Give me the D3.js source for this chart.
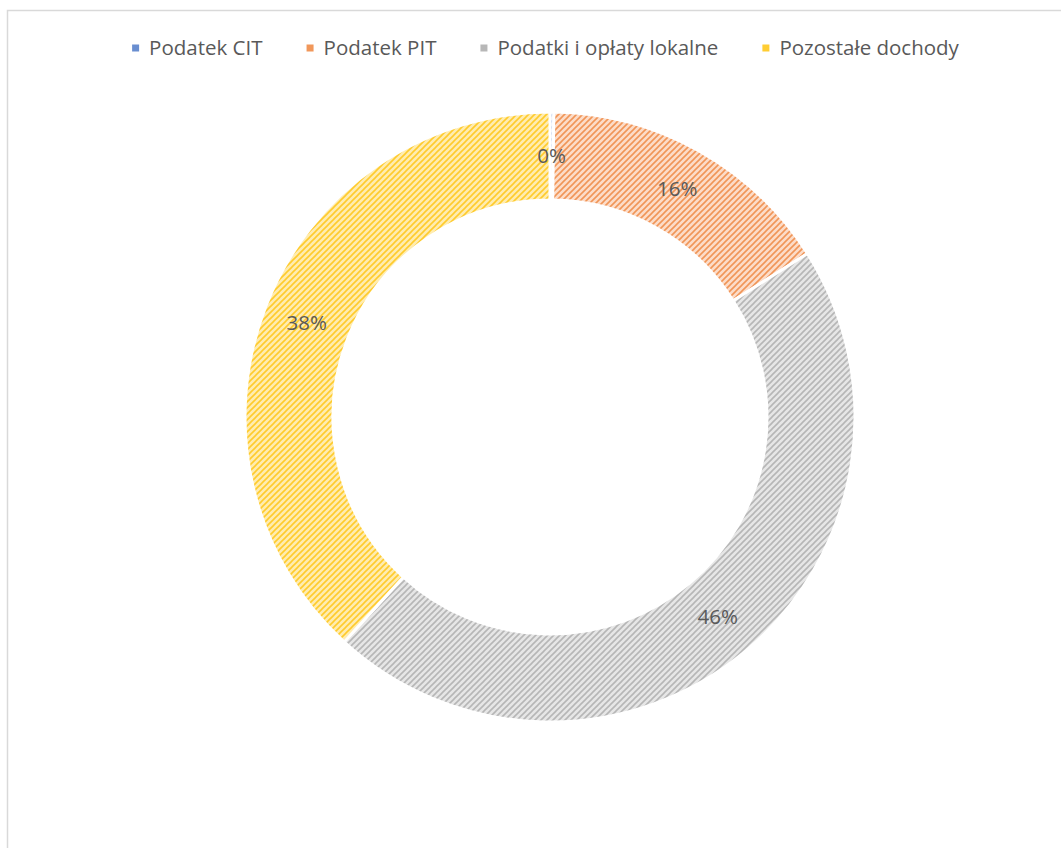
<!DOCTYPE html>
<html>
<head>
<meta charset="utf-8">
<script src="https://cdn.jsdelivr.net/npm/d3@7"></script>
<style>
  body { margin: 0; background: #fff; }
  svg { display: block; }
  text { font-family: "Open Sans", "Noto Sans", sans-serif; fill: #595959; }
</style>
</head>
<body>
<svg id="chart" width="1061" height="848"></svg>
<script>
// Data
const categories = ['Podatek CIT', 'Podatek PIT', 'Podatki i opłaty lokalne', 'Pozostałe dochody'],
    shares = [0.2, 15.8, 45.8, 38.2],
    labels = ['0%', '16%', '46%', '38%'],
    colors = ['#4472C4', '#ED7D31', '#A5A5A5', '#FFC000'],
    tints = ['#cdd9f0', '#fcdcc8', '#e6e6e6', '#ffecb0'];

const width = 1061, height = 848,
    cx = 550, cy = 417,
    outerR = 305, innerR = 217;

const svg = d3.select('#chart');

// chart area border (right/bottom edges run off the page)
svg.append('rect')
    .attr('x', 7.5).attr('y', 10.5)
    .attr('width', width + 20).attr('height', height + 20)
    .attr('fill', 'none')
    .attr('stroke', '#d9d9d9')
    .attr('stroke-width', 1.5);

// striped fills, like Excel's wide upward diagonal pattern
const defs = svg.append('defs');
colors.forEach((c, i) => {
    const p = defs.append('pattern')
        .attr('id', 'hatch' + i)
        .attr('patternUnits', 'userSpaceOnUse')
        .attr('width', 6).attr('height', 6);
    p.append('rect').attr('width', 6).attr('height', 6).attr('fill', tints[i]);
    p.append('path')
        .attr('d', 'M-1,1 L1,-1 M0,6 L6,0 M5,7 L7,5')
        .attr('stroke', c)
        .attr('stroke-width', 1.6)
        .attr('opacity', 0.75);
});

const pie = d3.pie().sort(null).value(d => d.v);
const arcs = pie(shares.map((v, i) => ({ v, i })));

const arc = d3.arc().innerRadius(innerR).outerRadius(outerR);
const labelArc = d3.arc().innerRadius((innerR + outerR) / 2).outerRadius((innerR + outerR) / 2);

const g = svg.append('g').attr('transform', `translate(${cx},${cy})`);

g.selectAll('path.slice')
    .data(arcs)
    .join('path')
    .attr('class', 'slice')
    .attr('d', arc)
    .attr('fill', d => `url(#hatch${d.data.i})`)
    .attr('stroke', '#fff')
    .attr('stroke-width', 3);

g.selectAll('text.lbl')
    .data(arcs)
    .join('text')
    .attr('class', 'lbl')
    .attr('transform', d => `translate(${labelArc.centroid(d)})`)
    .attr('text-anchor', 'middle')
    .attr('dy', '0.35em')
    .style('font-size', '20.5px')
    .text(d => labels[d.data.i]);

// legend, centred above the ring
const legend = svg.append('g');
const items = legend.selectAll('g')
    .data(categories)
    .join('g');

items.append('rect')
    .attr('width', 7).attr('height', 7)
    .attr('y', -3.5)
    .attr('fill', (d, i) => colors[i])
    .attr('opacity', 0.8);
const txt = items.append('text')
    .attr('x', 17)
    .attr('dy', '0.35em')
    .style('font-size', '20.5px')
    .text(d => d);

let x = 0;
items.each(function (d, i) {
    d3.select(this).attr('transform', `translate(${x},48)`);
    x += 17 + txt.nodes()[i].getComputedTextLength() + 44;
});
const legendW = x - 44;
legend.attr('transform', `translate(${545.5 - legendW / 2},0)`);
</script>
</body>
</html>
